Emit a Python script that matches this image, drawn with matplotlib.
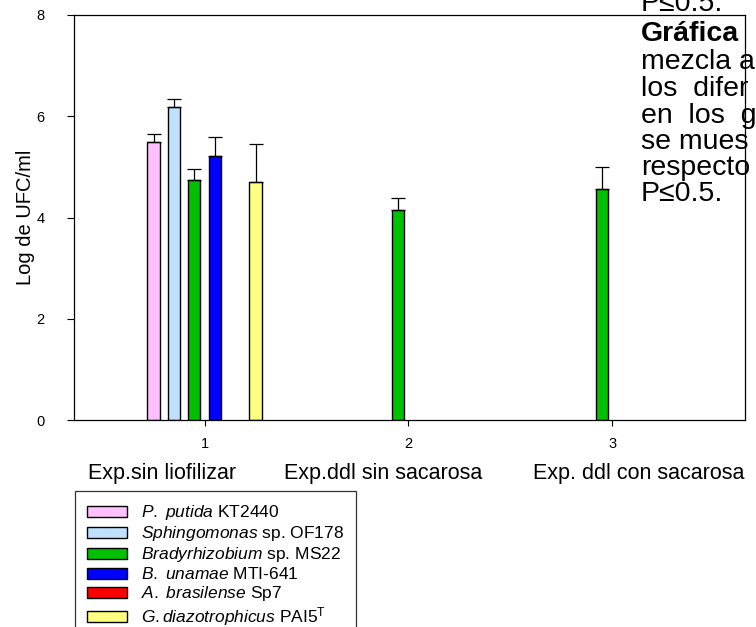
import numpy as np
import matplotlib
matplotlib.use("Agg")
import matplotlib.pyplot as plt
from matplotlib.patches import Patch

plt.rcParams["font.family"] = ["Liberation Sans", "DejaVu Sans"]
plt.rcParams["mathtext.fontset"] = "custom"
plt.rcParams["mathtext.rm"] = "Liberation Sans"
plt.rcParams["mathtext.it"] = "Liberation Sans:italic"

nan = np.nan

# data
groups = [1, 2, 3]
group_names = ["Exp.sin liofilizar", "Exp.ddl sin sacarosa", "Exp. ddl con sacarosa"]

putida = [5.50, nan, nan]
putida_err = [0.15, 0, 0]
sphingo = [6.18, nan, nan]
sphingo_err = [0.16, 0, 0]
bradyr = [4.74, 4.15, 4.57]
bradyr_err = [0.21, 0.23, 0.42]
unamae = [5.22, nan, nan]
unamae_err = [0.38, 0, 0]
brasil = [nan, nan, nan]
brasil_err = [0, 0, 0]
gdiaz = [4.70, nan, nan]
gdiaz_err = [0.75, 0, 0]

labels = [
    r"$\it{P.}$ $\it{putida}$ KT2440",
    r"$\it{Sphingomonas}$ sp. OF178",
    r"$\it{Bradyrhizobium}$ sp. MS22",
    r"$\it{B.}$ $\it{unamae}$ MTI-641",
    r"$\it{A.}$ $\it{brasilense}$ Sp7",
    r"$\it{G.diazotrophicus}$ PAI5$^{\mathrm{T}}$",
]
colors = ["#FFC0FF", "#C0E0FF", "#00C000", "#0000FF", "#FF0000", "#FFFF80"]

series = [putida, sphingo, bradyr, unamae, brasil, gdiaz]
errors = [putida_err, sphingo_err, bradyr_err, unamae_err, brasil_err, gdiaz_err]

fig = plt.figure(figsize=(7.56, 6.27), dpi=100)
ax = fig.add_axes([74 / 756, 1 - 420 / 627, 671 / 756, 405 / 627])

x = np.array(groups, dtype=float)
step = 0.1
w = 0.06
for i, (vals, err, c) in enumerate(zip(series, errors, colors)):
    pos = x + (i - 2.5) * step
    vals = np.array(vals, dtype=float)
    err = np.array(err, dtype=float)
    ax.bar(pos, vals, width=w, color=c, edgecolor="black", linewidth=1.0, zorder=2)
    ok = ~np.isnan(vals)
    if ok.any():
        ax.errorbar(pos[ok], vals[ok], yerr=[np.zeros(ok.sum()), err[ok]],
                    fmt="none", ecolor="black", elinewidth=0.9, capsize=5,
                    capthick=0.9, zorder=3)

ax.set_xlim(0.36, 3.65)
ax.set_ylim(0, 8)
ax.set_xticks(groups)
ax.set_yticks([0, 2, 4, 6, 8])
ax.tick_params(axis="x", direction="out", length=4, width=0.8, pad=8, labelsize=10.5)
ax.tick_params(axis="y", direction="out", length=5, width=0.8, pad=16, labelsize=10.5)
for s in ax.spines.values():
    s.set_linewidth(0.9)
ax.set_ylabel("Log de UFC/ml", fontsize=14.5, labelpad=1)

for name, px in zip(group_names, [88, 284, 533]):
    fig.text(px / 756, 1 - 473 / 627, name, ha="left", va="center", fontsize=15.5)

handles = [Patch(facecolor=c, edgecolor="black", linewidth=1.0) for c in colors]
leg = fig.legend(handles, labels, loc="upper left",
                 bbox_to_anchor=(75 / 756, 1 - 491 / 627),
                 fontsize=12.5, frameon=True, fancybox=False,
                 handlelength=2.3, handleheight=0.6, handletextpad=0.8,
                 labelspacing=0.12, borderpad=0.7, borderaxespad=0)
leg.get_frame().set_edgecolor("black")
leg.get_frame().set_linewidth(0.9)

# overlapping page text on the right, cut by the figure edge
side_lines = [
    ("P\u22640.5.", 4, "normal"),
    ("Gr\u00e1fica", 34, "bold"),
    ("mezcla a", 62, "normal"),
    ("los  difer", 89, "normal"),
    ("en  los  g", 116, "normal"),
    ("se mues", 142, "normal"),
    ("respecto", 168, "normal"),
    ("P\u22640.5.", 194, "normal"),
]
for txt, py, wt in side_lines:
    fig.text(641 / 756, 1 - py / 627, txt, ha="left", va="center",
             fontsize=20.5, fontweight=wt, zorder=5)

fig.savefig("out.png", dpi=100)
